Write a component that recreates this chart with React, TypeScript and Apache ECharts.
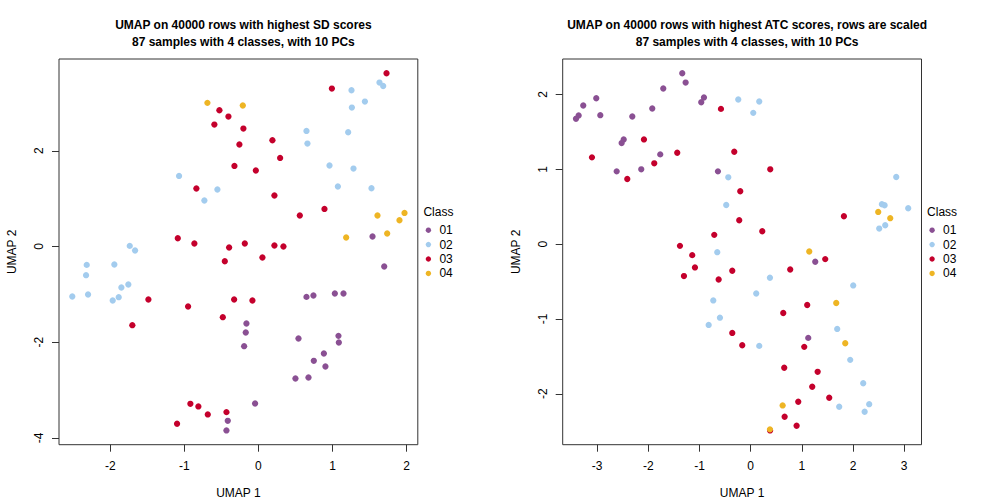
import React, { useEffect, useRef } from "react";
import * as echarts from "echarts";

const CLASSES = ["01", "02", "03", "04"];
const COLORS = ["#8A5093", "#A3CCEE", "#C4002C", "#EEB524"];

// Left panel: SD scores
const sd01 = [[1.541,0.209],[1.699,-0.418],[0.649,-1.052],[0.743,-1.023],[1.032,-0.981],[1.149,-0.981],[-0.162,-1.608],[-0.171,-1.795],[0.541,-1.921],[1.081,-1.866],[1.086,-2.004],[-0.193,-2.081],[0.884,-2.234],[0.748,-2.388],[0.905,-2.505],[0.5,-2.756],[0.676,-2.735],[-0.045,-3.278],[-0.414,-3.641],[-0.432,-3.841]];
const sd02 = [[-1.072,1.474],[-0.554,1.19],[-0.73,0.96],[-1.738,0.013],[-1.666,-0.084],[1.257,3.263],[1.635,3.424],[1.685,3.353],[1.438,3.027],[1.262,2.902],[0.649,2.414],[1.212,2.386],[0.662,2.15],[0.96,1.691],[1.284,1.628],[1.073,1.253],[1.527,1.217],[-2.319,-0.384],[-1.946,-0.376],[-2.328,-0.599],[-1.757,-0.793],[-1.851,-0.856],[-2.514,-1.044],[-2.301,-1.002],[-1.887,-1.058],[-1.968,-1.127]];
const sd03 = [[-0.527,2.846],[-0.405,2.714],[-0.595,2.547],[-0.203,2.463],[-0.257,2.13],[-0.324,1.683],[-0.838,1.211],[-1.089,0.173],[-0.865,0.063],[-0.396,-0.021],[1.73,3.618],[0.992,3.299],[0.189,2.219],[0.293,1.85],[-0.035,1.587],[0.216,1.065],[0.892,0.785],[0.559,0.647],[-0.184,0.063],[0.216,0.021],[0.338,0.0],[-1.486,-1.106],[-0.454,-0.307],[-0.328,-1.106],[-0.95,-1.253],[-0.481,-1.476],[-1.703,-1.643],[-0.919,-3.286],[-0.811,-3.34],[-0.684,-3.507],[-0.432,-3.459],[-1.099,-3.703],[0.054,-0.23],[-0.081,-1.127]];
const sd04 = [[-0.689,3.0],[-0.211,2.944],[1.608,0.647],[1.973,0.702],[1.905,0.549],[1.739,0.271],[1.185,0.188]];

// Right panel: ATC scores
const atc01 = [[-1.336,2.284],[-1.27,2.16],[-1.707,2.08],[-3.016,1.951],[-3.27,1.853],[-0.912,1.96],[-0.965,1.897],[-1.922,1.813],[-3.36,1.72],[-3.412,1.675],[-2.937,1.724],[-2.312,1.707],[-2.48,1.4],[-2.52,1.351],[-1.766,1.2],[-2.617,0.973],[-2.137,1.0],[-0.639,0.973],[1.262,-0.236],[1.125,-1.253]];
const atc02 = [[-0.652,-0.107],[-0.242,1.933],[0.168,1.907],[0.051,1.755],[-0.437,0.893],[-0.477,0.524],[2.844,0.897],[2.564,0.533],[2.617,0.52],[3.078,0.48],[2.629,0.253],[2.512,0.208],[-0.73,-0.752],[-0.6,-0.983],[-0.82,-1.08],[0.377,-0.449],[2.004,-0.552],[0.109,-0.659],[1.691,-1.133],[0.168,-1.36],[1.945,-1.547],[2.199,-1.859],[2.316,-2.139],[1.73,-2.173],[2.227,-2.24]];
const atc03 = [[-0.58,1.808],[-2.084,1.4],[-3.1,1.16],[-1.434,1.221],[-1.883,1.08],[-2.41,0.871],[-0.711,0.124],[-1.381,-0.023],[-1.141,-0.147],[-0.32,1.235],[0.383,1.0],[-0.203,0.707],[-0.223,0.32],[0.227,0.173],[1.822,0.373],[-1.088,-0.311],[-1.303,-0.427],[-0.625,-0.472],[1.457,-0.2],[-0.359,-0.356],[0.773,-0.339],[1.105,-0.813],[0.637,-0.92],[-0.359,-1.187],[-0.164,-1.352],[1.047,-1.373],[0.656,-1.653],[1.309,-1.707],[1.203,-1.907],[1.535,-2.053],[0.93,-2.107],[0.664,-2.307],[0.898,-2.427],[0.38,-2.49]];
const atc04 = [[1.145,-0.098],[2.492,0.431],[2.727,0.347],[1.672,-0.787],[1.848,-1.325],[0.625,-2.156],[0.377,-2.476]];

const sdXTicks = [-2, -1, 0, 1, 2];
const sdYTicks = [-4, -2, 0, 2];
const atcXTicks = [-3, -2, -1, 0, 1, 2, 3];
const atcYTicks = [-2, -1, 0, 1, 2];

const sdTitle = "UMAP on 40000 rows with highest SD scores\n87 samples with 4 classes, with 10 PCs";
const atcTitle = "UMAP on 40000 rows with highest ATC scores, rows are scaled\n87 samples with 4 classes, with 10 PCs";

const FONT = "'Liberation Sans', Arial, Helvetica, sans-serif";
const FS = 12;

function rRange(groups: number[][][], idx: number) {
  const vals = groups.flat().map((p) => p[idx]);
  const lo = Math.min(...vals);
  const hi = Math.max(...vals);
  const pad = (hi - lo) * 0.04;
  return [lo - pad, hi + pad];
}

const GRID_TOP = 59;
const GRID_H = 385.7;
const GRID_W = 358.8;
const LEFT_X = 59;
const RIGHT_X = 562.7;

function makeAxes(gridIndex: number, xr: number[], yr: number[], xt: number[], yt: number[]) {
  const common = {
    gridIndex,
    type: "value" as const,
    axisLine: { show: false, onZero: false },
    splitLine: { show: false },
    axisTick: { show: true, inside: false, length: 7, lineStyle: { color: "#333", width: 1 } },
    nameTextStyle: { fontFamily: FONT, fontSize: FS, color: "#000" },
  };
  const x = {
    ...common,
    min: xr[0],
    max: xr[1],
    name: "UMAP 1",
    nameLocation: "middle",
    nameGap: 42,
    axisTick: { ...common.axisTick, customValues: xt },
    axisLabel: { customValues: xt, margin: 15, fontFamily: FONT, fontSize: FS, color: "#000" },
  };
  const y = {
    ...common,
    min: yr[0],
    max: yr[1],
    name: "UMAP 2",
    nameLocation: "middle",
    nameGap: 41,
    nameRotate: 90,
    axisTick: { ...common.axisTick, customValues: yt },
    axisLabel: { customValues: yt, margin: 14, rotate: 90, fontFamily: FONT, fontSize: FS, color: "#000" },
  };
  return { x, y };
}

function legendGraphics(x0: number) {
  const els: any[] = [
    {
      type: "text",
      x: x0,
      y: 211.7,
      style: { text: "Class", fontFamily: FONT, fontSize: FS, fill: "#000", verticalAlign: "middle" },
    },
  ];
  CLASSES.forEach((c, i) => {
    const cy = 230.2 + i * 14.4;
    els.push({
      type: "circle",
      shape: { cx: x0 + 5, cy, r: 2.7 },
      style: { fill: COLORS[i] },
    });
    els.push({
      type: "text",
      x: x0 + 16,
      y: cy,
      style: { text: c, fontFamily: FONT, fontSize: FS, fill: "#000", verticalAlign: "middle" },
    });
  });
  return els;
}

export default function App() {
  const ref = useRef<HTMLDivElement>(null);
  useEffect(() => {
    if (!ref.current) return;
    const chart = echarts.init(ref.current, null, { renderer: "svg" });
    const sdGroups = [sd01, sd02, sd03, sd04];
    const atcGroups = [atc01, atc02, atc03, atc04];
    const a0 = makeAxes(0, rRange(sdGroups, 0), rRange(sdGroups, 1), sdXTicks, sdYTicks);
    const a1 = makeAxes(1, rRange(atcGroups, 0), rRange(atcGroups, 1), atcXTicks, atcYTicks);
    const series: any[] = [];
    sdGroups.forEach((d, i) =>
      series.push({
        type: "scatter",
        name: CLASSES[i],
        xAxisIndex: 0,
        yAxisIndex: 0,
        data: d,
        symbol: "circle",
        symbolSize: 6.3,
        itemStyle: { color: COLORS[i], opacity: 1 },
      })
    );
    atcGroups.forEach((d, i) =>
      series.push({
        type: "scatter",
        name: CLASSES[i],
        xAxisIndex: 1,
        yAxisIndex: 1,
        data: d,
        symbol: "circle",
        symbolSize: 6.3,
        itemStyle: { color: COLORS[i], opacity: 1 },
      })
    );
    const titleStyle = { fontFamily: FONT, fontSize: FS, fontWeight: "bold", color: "#000", lineHeight: 16.6 };
    chart.setOption({
      animation: false,
      backgroundColor: "#fff",
      title: [
        { text: sdTitle, left: LEFT_X + GRID_W / 2, textAlign: "center", top: 12, textStyle: titleStyle },
        { text: atcTitle, left: RIGHT_X + GRID_W / 2, textAlign: "center", top: 12, textStyle: titleStyle },
      ],
      grid: [
        { left: LEFT_X, top: GRID_TOP, width: GRID_W, height: GRID_H, show: true, borderColor: "#333", borderWidth: 1, backgroundColor: "transparent", containLabel: false },
        { left: RIGHT_X, top: GRID_TOP, width: GRID_W, height: GRID_H, show: true, borderColor: "#333", borderWidth: 1, backgroundColor: "transparent", containLabel: false },
      ],
      xAxis: [a0.x, a1.x],
      yAxis: [a0.y, a1.y],
      series,
      graphic: [...legendGraphics(LEFT_X + GRID_W + 5.6), ...legendGraphics(RIGHT_X + GRID_W + 5.6)],
    });
    return () => chart.dispose();
  }, []);
  return (
    <div
      ref={ref}
      style={{ position: "fixed", left: 0, top: 0, width: 1008, height: 504, background: "#fff" }}
    />
  );
}
